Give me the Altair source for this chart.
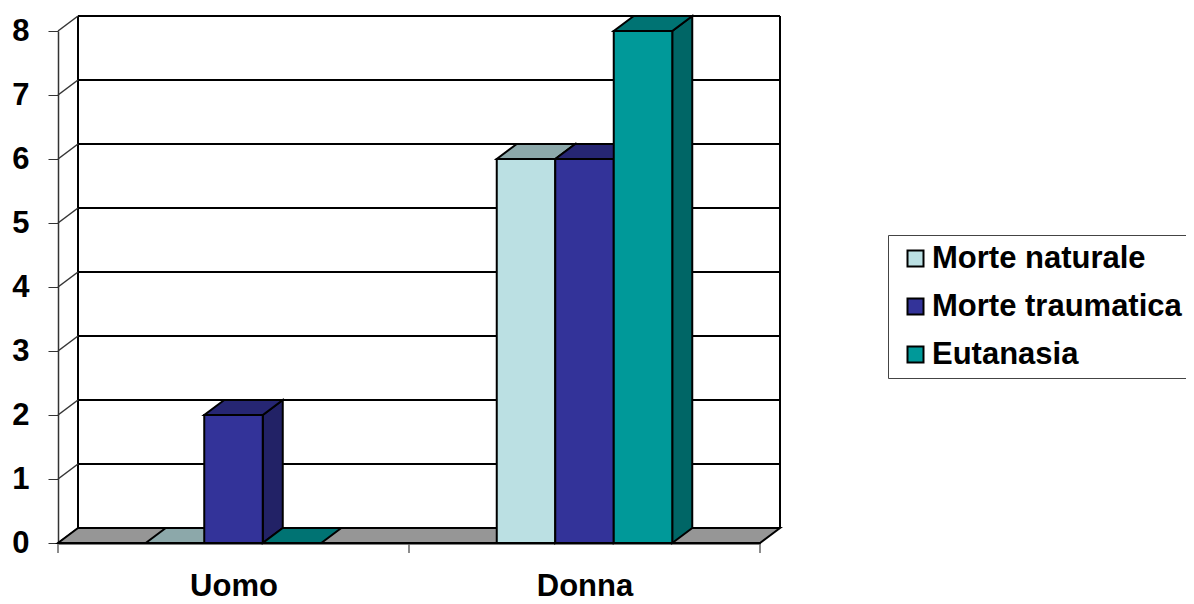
import json
import altair as alt
import pandas as pd

categories = ["Uomo", "Donna"]
series = ["Morte naturale", "Morte traumatica", "Eutanasia"]
values = {
    "Morte naturale": [0, 6],
    "Morte traumatica": [2, 6],
    "Eutanasia": [0, 8],
}
front_colors = ["#BBE0E3", "#333399", "#009999"]
top_colors = ["#8CA8AA", "#262673", "#007373"]
side_colors = ["#8CA8AA", "#222266", "#006666"]
floor_color = "#969696"
y_ticks = [0, 1, 2, 3, 4, 5, 6, 7, 8]
FONT = "Liberation Sans"
FS = 31

# 3-D depth of the chart box, in data units of each axis
DX = 20 / 351
DY = 15 / 64
BAR = 1 / 6
NG = len(categories)
YMAX = max(y_ticks)

fronts, tops, sides = [], [], []
for g, cat in enumerate(categories):
    for s, name in enumerate(series):
        v = values[name][g]
        x0 = g + 0.25 + s * BAR
        x1 = x0 + BAR
        fronts.append(dict(series=name, x=x0, x2=x1, y=0, y2=v))
        face = f"{cat}-{name}"
        tops += [
            dict(face=face, fill=top_colors[s], y=v, x=x0, x2=x1),
            dict(face=face, fill=top_colors[s], y=v + DY, x=x0 + DX, x2=x1 + DX),
        ]
        if v > 0:
            sides += [
                dict(face=face, fill=side_colors[s], x=x1, y=0, y2=v),
                dict(face=face, fill=side_colors[s], x=x1 + DX, y=DY, y2=v + DY),
            ]

floor = [
    dict(y=0, x=0, x2=NG),
    dict(y=DY, x=DX, x2=NG + DX),
]
back = [dict(x=DX, x2=NG + DX, y=k + DY, y2=k + DY) for k in y_ticks]
back += [
    dict(x=DX, x2=DX, y=DY, y2=YMAX + DY),
    dict(x=NG + DX, x2=NG + DX, y=DY, y2=YMAX + DY),
]
slants = [dict(x=0, x2=DX, y=k, y2=k + DY) for k in y_ticks]
x_ticks = [dict(x=g, x2=g, y=0, y2=-10 / 64) for g in range(NG + 1)]

xs = alt.Scale(domain=[0, NG], nice=False, zero=False)
ys = alt.Scale(domain=[0, YMAX], nice=False, zero=False)
label_expr = f"{json.dumps(categories)}[floor(datum.value)]"
x_axis = alt.Axis(
    values=[g + 0.5 for g in range(NG)],
    labelExpr=label_expr,
    ticks=False,
    grid=False,
    domainColor="#000000",
    domainWidth=2,
    labelFont=FONT,
    labelFontSize=FS,
    labelFontWeight="bold",
    labelColor="#000000",
    labelPadding=28,
    labelFlush=False,
    labelOverlap=False,
)
y_axis = alt.Axis(
    values=y_ticks,
    format="d",
    grid=False,
    domainColor="#333333",
    domainWidth=1.5,
    tickColor="#333333",
    tickWidth=1,
    tickSize=10,
    labelFont=FONT,
    labelFontSize=FS,
    labelFontWeight="bold",
    labelColor="#000000",
    labelPadding=19,
)
X = alt.X("x:Q", scale=xs, title=None, axis=x_axis)
Y = alt.Y("y:Q", scale=ys, title=None, axis=y_axis)


def rules(rows, color, width):
    return (
        alt.Chart(pd.DataFrame(rows))
        .mark_rule(color=color, strokeWidth=width)
        .encode(X, alt.X2("x2:Q"), Y, alt.Y2("y2:Q"))
    )


floor_layer = (
    alt.Chart(pd.DataFrame(floor))
    .mark_area(orient="horizontal", color=floor_color, stroke="#000000", strokeWidth=2)
    .encode(X, alt.X2("x2:Q"), Y)
)

side_layer = (
    alt.Chart(pd.DataFrame(sides))
    .mark_area(orient="vertical", stroke="#000000", strokeWidth=2)
    .encode(X, Y, alt.Y2("y2:Q"), alt.Fill("fill:N", scale=None), alt.Detail("face:N"))
)

top_layer = (
    alt.Chart(pd.DataFrame(tops))
    .mark_area(orient="horizontal", stroke="#000000", strokeWidth=2)
    .encode(X, alt.X2("x2:Q"), Y, alt.Fill("fill:N", scale=None), alt.Detail("face:N"))
)

front_layer = (
    alt.Chart(pd.DataFrame(fronts))
    .mark_rect(stroke="#000000", strokeWidth=2)
    .encode(
        X,
        alt.X2("x2:Q"),
        Y,
        alt.Y2("y2:Q"),
        color=alt.Color(
            "series:N",
            scale=alt.Scale(domain=series, range=front_colors),
            legend=alt.Legend(
                orient="none",
                legendX=830,
                legendY=204,
                title=None,
                symbolType="square",
                symbolSize=256,
                symbolStrokeColor="#000000",
                symbolStrokeWidth=2,
                symbolOpacity=1,
                labelFont=FONT,
                labelFontSize=FS,
                labelFontWeight="bold",
                labelColor="#000000",
                labelLimit=400,
                labelOffset=1,
                rowPadding=16,
                padding=8,
                fillColor="#FFFFFF",
                strokeColor="#444444",
                symbolOffset=4,
            ),
        ),
    )
)

chart = (
    alt.layer(
        rules(x_ticks, "#666666", 1.5),
        rules(back, "#000000", 2),
        rules(slants, "#333333", 1.5),
        floor_layer,
        side_layer,
        top_layer,
        front_layer,
    )
    .properties(
        width=702,
        height=512,
        padding={"left": 50, "top": 23, "right": 426, "bottom": 61},
        autosize=alt.AutoSizeParams(type="none"),
        background="#FFFFFF",
    )
    .configure_view(stroke=None)
)

chart.save("out.html", embed_options={"renderer": "svg", "actions": False})
